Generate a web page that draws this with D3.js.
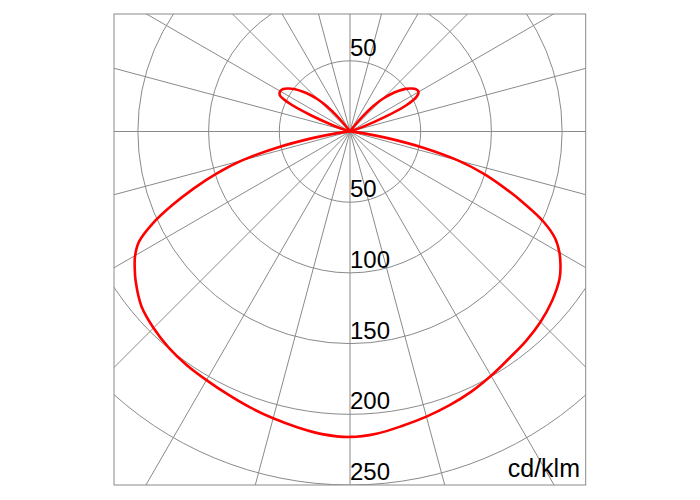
<!DOCTYPE html>
<html>
<head>
<meta charset="utf-8">
<script src="https://cdn.jsdelivr.net/npm/d3@7/dist/d3.min.js"></script>
<style>
  html, body { margin: 0; padding: 0; background: #fff; }
  svg { display: block; }
  text { font-family: "Liberation Sans", Arial, sans-serif; fill: #000; }
</style>
</head>
<body>
<svg id="chart" width="700" height="500"></svg>
<script>
// ---- data (cd/klm) ----
const gammaDeg = [0,5,10,15,20,25,30,35,40,45,50,55,57.5,60,62.5,65,67.5,70,72.5,75,77.5,80,82.5,85,87.5,90,100,105,107.5,110,112.5,115,117.5,120,122.5,125,127.5,130,132.5,135,137.5,140,142.5,145,160,180];
// C0 plane (drawn on the right)
const c0Values = [216,214.5,211.5,208.8,206,203,199.5,196,193.5,190.5,186.5,181,176.5,171,163.5,151,133.5,116,99,79,53,27,10,3,0.5,0,0,0,2,10,26,44,53,56,55.5,53,49.5,44.5,39,32.5,24.5,14.5,4.5,0,0,0];
// C180 plane (drawn on the left)
const c180Values = [216,215,212.5,210,207.5,205,203,201.5,199.5,196.5,192.5,185,180.5,175.5,168,154,136,117.5,99,79,53,27,10,3,0.5,0,0,0,3,13,30,48,56,57,56,53,49,44,38.5,32,24,14,4,0,0,0];
const circleTicks = [50,100,150,200,250];
const upperTickLabels = [50];
const lowerTickLabels = [50,100,150,200,250];
const spokeAngles = d3.range(0, 360, 15);
const unitLabel = "cd/klm";

// ---- layout ----
const cx = 350, cy = 131.5;
const frame = {x0: 114, y0: 14, x1: 585.7, y1: 485};
const r = d3.scaleLinear().domain([0, 250]).range([0, 353.5]);
const gridColor = "#8a8a8a";

const svg = d3.select("#chart");
svg.append("defs").append("clipPath").attr("id", "clip")
  .append("rect")
  .attr("x", frame.x0).attr("y", frame.y0)
  .attr("width", frame.x1 - frame.x0).attr("height", frame.y1 - frame.y0);

const grid = svg.append("g").attr("clip-path", "url(#clip)");
const gc = grid.append("g").attr("transform", `translate(${cx},${cy})`);

// spokes
gc.selectAll("line.spoke").data(spokeAngles).join("line")
  .attr("class", "spoke")
  .attr("x1", 0).attr("y1", 0)
  .attr("x2", d => Math.sin(d * Math.PI / 180) * 700)
  .attr("y2", d => -Math.cos(d * Math.PI / 180) * 700)
  .attr("stroke", gridColor).attr("stroke-width", 1);

// circles
gc.selectAll("circle.ring").data(circleTicks).join("circle")
  .attr("class", "ring")
  .attr("r", d => r(d))
  .attr("fill", "none")
  .attr("stroke", gridColor).attr("stroke-width", 1);

// frame
svg.append("rect")
  .attr("x", frame.x0).attr("y", frame.y0)
  .attr("width", frame.x1 - frame.x0).attr("height", frame.y1 - frame.y0)
  .attr("fill", "none").attr("stroke", gridColor).attr("stroke-width", 1);

// labels
const labels = svg.append("g").attr("font-size", 24);
labels.selectAll("text.up").data(upperTickLabels).join("text")
  .attr("class", "up")
  .attr("x", cx).attr("y", d => cy - r(d) - 5)
  .text(d => d);
labels.selectAll("text.down").data(lowerTickLabels).join("text")
  .attr("class", "down")
  .attr("x", cx).attr("y", d => cy + r(d) - 5)
  .text(d => d);
svg.append("text")
  .attr("x", 580).attr("y", 477)
  .attr("text-anchor", "end")
  .attr("font-size", 25)
  .text(unitLabel);

// intensity curve
const pts = [];
gammaDeg.forEach((g, i) => pts.push({a: Math.PI - g * Math.PI / 180, v: c0Values[i]}));
for (let i = gammaDeg.length - 2; i >= 1; i--) {
  pts.push({a: Math.PI + gammaDeg[i] * Math.PI / 180, v: c180Values[i]});
}
const line = d3.lineRadial()
  .angle(d => d.a)
  .radius(d => r(d.v))
  .curve(d3.curveCatmullRomClosed.alpha(0.5));

svg.append("g").attr("clip-path", "url(#clip)")
  .append("path")
  .attr("transform", `translate(${cx},${cy})`)
  .attr("d", line(pts))
  .attr("fill", "none")
  .attr("stroke", "#ff0000")
  .attr("stroke-width", 2.6)
  .attr("stroke-linejoin", "round");
</script>
</body>
</html>
